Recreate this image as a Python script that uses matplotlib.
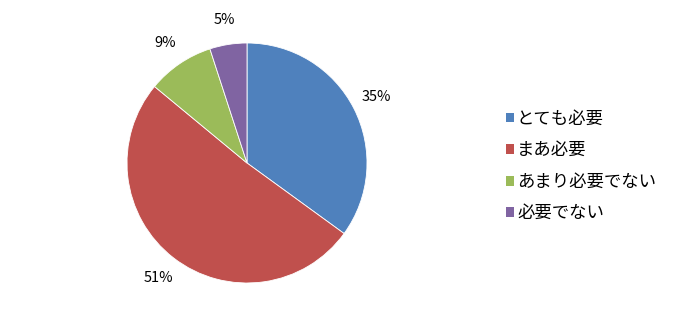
import matplotlib
matplotlib.use('Agg')
import matplotlib.pyplot as plt
from matplotlib.patches import Patch

categories = ['とても必要', 'まあ必要', 'あまり必要でない', '必要でない']
values = [35, 51, 9, 5]
colors = ['#4F81BD', '#C0504D', '#9BBB59', '#8064A2']

plt.rcParams['font.family'] = ['Noto Sans CJK JP', 'DejaVu Sans']

W, H = 674, 325
fig = plt.figure(figsize=(W / 100, H / 100), dpi=100)
cx, cy, r = 247, 163, 120
ax = fig.add_axes([(cx - r) / W, (H - cy - r) / H, 2 * r / W, 2 * r / H])
ax.pie(values, colors=colors, startangle=90, counterclock=False, radius=1,
       labels=[f'{v}%' for v in values], labeldistance=1.21,
       wedgeprops=dict(edgecolor='white', linewidth=0.6),
       textprops=dict(fontsize=10.5, ha='center', va='center'))
ax.set_xlim(-1, 1)
ax.set_ylim(-1, 1)
ax.set_aspect('equal')
ax.axis('off')

handles = [Patch(facecolor=c, edgecolor='none') for c in colors]
fig.legend(handles, categories, loc='upper left',
           bbox_to_anchor=(497 / W, 1 - 101 / H), frameon=False,
           fontsize=12.5, handlelength=0.5, handleheight=0.5,
           handletextpad=0.15, labelspacing=0.78, borderpad=0)

fig.savefig('out.png', dpi=100)
